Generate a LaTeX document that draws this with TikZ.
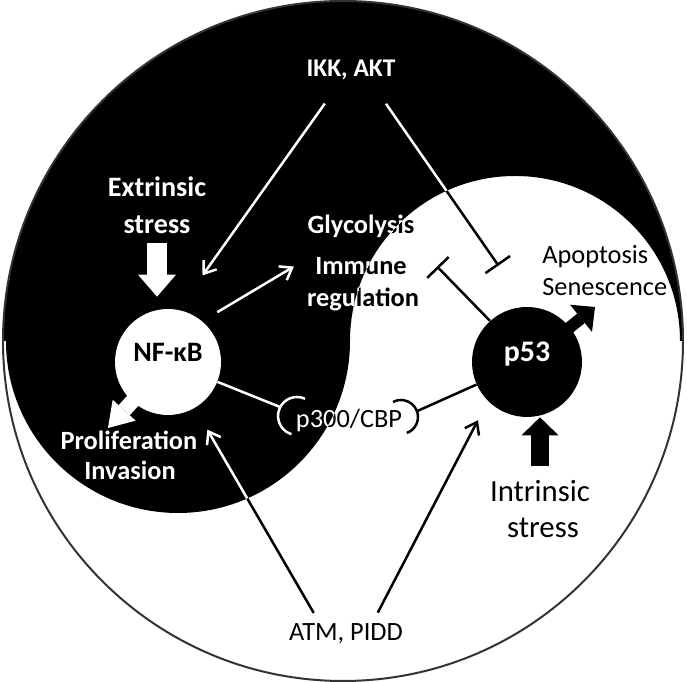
\documentclass[tikz,border=0pt]{standalone}
\usepackage{fontspec}
\setmainfont{Carlito}
\usetikzlibrary{arrows.meta}
\usepackage{xcolor}

\tikzset{
  lbl/.style={inner sep=0pt, anchor=base, font=\fontsize{15}{18}\selectfont},
  blbl/.style={lbl, font=\fontsize{15}{18}\selectfont\bfseries},
  thinline/.style={line width=0.05cm},
  openarrow/.style={thinline, -{Straight Barb[length=0.22cm,width=0.32cm]}},
  inhib/.style={thinline, -{Bar[width=0.6cm]}},
  fatarrow/.style n args={3}{line width=#1, -{Triangle[length=#2, width=#3, line width=0pt]}},
  hub/.style={circle, inner sep=0pt, text height=0.3cm, text depth=0.3cm}
}

% the black half of the yin-yang
\newcommand{\blackzone}{(3,341) arc[start angle=180, end angle=0, radius=340] -- (680,341)
  arc[start angle=0, end angle=180, radius=165] arc[start angle=0, end angle=-180, radius=172] -- cycle}

% parts that sit across the border: drawn once per colour
\newcommand{\mixedparts}[1]{
\node[blbl, text=#1] (glyco) at (361,448) {Glycolysis};
\node[blbl, text=#1] (immune) at (361,407) {Immune};
\node[blbl, text=#1] (regul) at (363,375) {regulation};
\node[blbl, text=#1] (prolif) at (129,232) {Proliferation};
\node[blbl, text=#1] (invas) at (130,202) {Invasion};
\node[lbl, text=#1] (p300) at (349,254) {p300/CBP};

\draw[thinline, #1] (nfkb) -- (cupLend);
\draw[thinline, #1] ([shift={(65:19)}]cupL) arc[start angle=65, end angle=253, radius=19];
\draw[thinline, #1] ([shift={(-70:17)}]cupR) arc[start angle=-70, end angle=118, radius=17];
\draw[thinline, #1] (cupRend) -- (p53);

\draw[inhib, #1, shorten <=0.56cm, shorten >=1.0cm] ([xshift=0.38cm]ikk.south) -- (p53.north);
\draw[openarrow, #1, shorten <=0.25cm, shorten >=0.5cm] ([xshift=-0.52cm]atm.north) -- (nfkb);
}

\begin{document}
\begin{tikzpicture}[x=0.02cm, y=0.02cm]

\useasboundingbox (0,0) rectangle (687,682);
\fill[white] (0,0) rectangle (687,682);

\fill[black] \blackzone;
\draw[line width=0.04cm, black!80] (343,341) circle [radius=340];

\node[hub, fill=white, minimum size=2.12cm, font=\fontsize{16}{19}\selectfont\bfseries] (nfkb) at (168,320) {NF-κB};
\node[hub, fill=black, text=white, minimum size=2.2cm, font=\fontsize{17}{20}\selectfont\bfseries] (p53) at (527,320) {p53};

\node[blbl, text=white, font=\fontsize{14.5}{17}\selectfont\bfseries] (ikk) at (351,605) {IKK, AKT};
\node[blbl, text=white, font=\fontsize{16}{19}\selectfont\bfseries] (extr) at (157,485) {Extrinsic};
\node[blbl, text=white, font=\fontsize{16}{19}\selectfont\bfseries] (extr2) at (157,448) {stress};
\node[lbl, anchor=base west] (apop) at (542,418) {Apoptosis};
\node[lbl, anchor=base west] (senes) at (542,386) {Senescence};
\node[lbl, font=\fontsize{17.5}{21}\selectfont] (intr) at (540,180) {Intrinsic};
\node[lbl, font=\fontsize{17.5}{21}\selectfont] (intr2) at (543,144) {stress};
\node[lbl] (atm) at (346,41) {ATM, PIDD};

\coordinate (cupL) at (297,266);
\coordinate (cupLend) at ([shift={(152:19)}]cupL);
\coordinate (cupR) at (401,265);
\coordinate (cupRend) at ([shift={(20:17)}]cupR);
\coordinate (prolTip) at (108,254);
\coordinate (apopTip) at (595,375);

\mixedparts{black}
\begin{scope}
\clip \blackzone;
\mixedparts{white}
\end{scope}

\draw[openarrow, white, shorten <=0.56cm, shorten >=0.84cm] ([xshift=-0.2cm]ikk.south) -- (nfkb.79);
\draw[openarrow, white, shorten <=0.35cm] (nfkb.50) -- ([xshift=-0.42cm]immune.west);
\draw[inhib] (p53.132) -- ([xshift=0.6cm]immune.east);
\draw[openarrow, shorten <=0.25cm, shorten >=0.43cm] ([xshift=0.52cm]atm.north) -- (p53.225);

\draw[fatarrow={0.4cm}{0.44cm}{0.76cm}, white, shorten <=0.16cm, shorten >=0.24cm] (extr2.south) -- (extr2.south |- nfkb.north);
\draw[fatarrow={0.36cm}{0.36cm}{0.74cm}, black, shorten <=0.28cm] (intr.north) -- (intr.north |- p53.south);
\draw[fatarrow={0.3cm}{0.48cm}{0.62cm}, white, shorten <=-0.1cm] (nfkb) -- (prolTip);
\draw[fatarrow={0.24cm}{0.36cm}{0.7cm}, black, shorten <=-0.1cm] (p53) -- (apopTip);

\end{tikzpicture}
\end{document}
